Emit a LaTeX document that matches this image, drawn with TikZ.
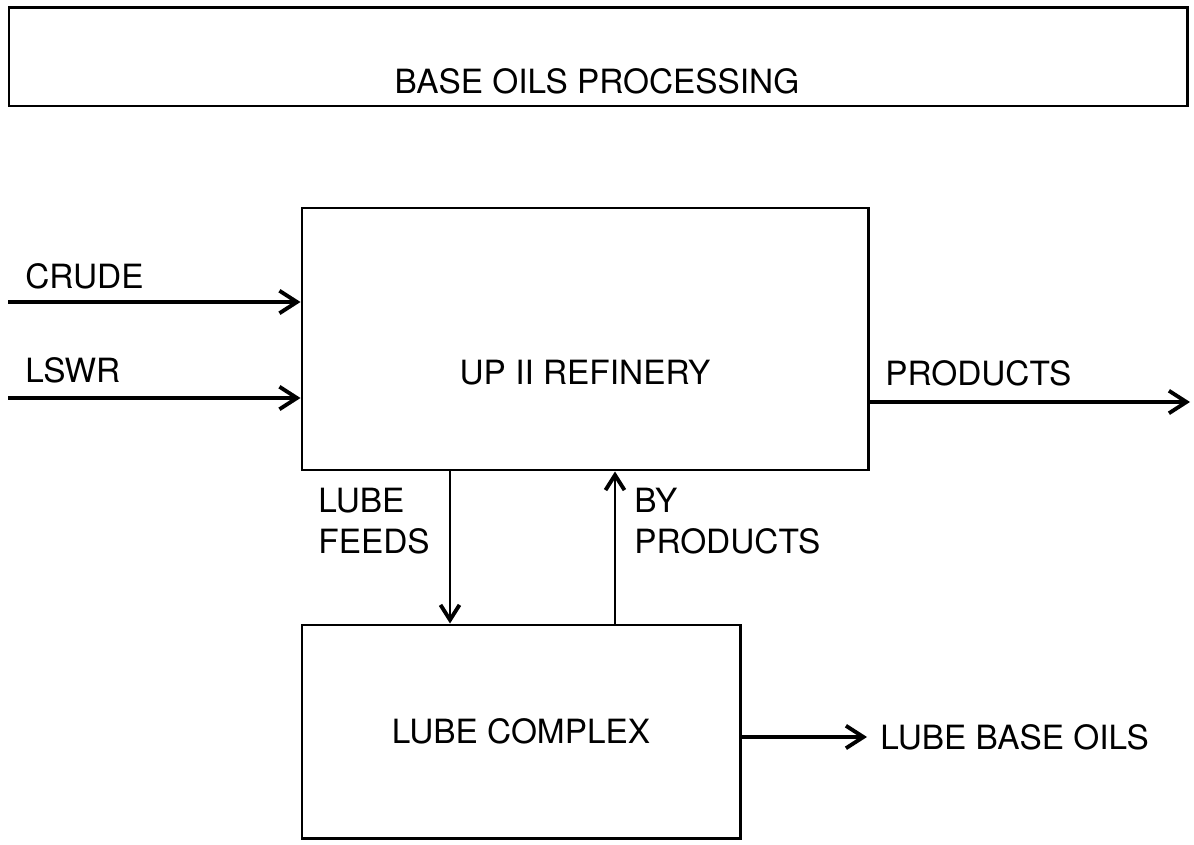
\documentclass[tikz,border=0pt]{standalone}
\usepackage{fontspec}
\setmainfont{TeX Gyre Heros}
\usetikzlibrary{arrows.meta,positioning}

\begin{document}
\begin{tikzpicture}[x=1cm,y=1cm,font=\fontsize{19}{23}\selectfont,
box/.style={draw,line width=1.7pt,inner sep=0pt},
lbl/.style={anchor=west,align=left,inner sep=0pt},
arr/.style={-{Straight Barb[length=3.5mm,width=4.5mm,line width=2.2pt]},line width=2pt},
varr/.style={-{Straight Barb[length=3mm,width=3.8mm,line width=2.2pt]},line width=1.4pt}]

\useasboundingbox (0,0) rectangle (23.88,16.88);
% title
\node[box,minimum width=23.56cm,minimum height=1.96cm] (title) at(11.96,15.74){};
\node (titletxt) at(11.94,15.26){BASE OILS PROCESSING};
% units
\node[box,minimum width=11.32cm,minimum height=5.24cm] (ref) at(11.7,10.1){};
\node (reftxt) at(11.7,9.42){UP II REFINERY};
\node[box,minimum width=8.76cm,minimum height=4.26cm] (lube) at(10.42,2.25){LUBE COMPLEX};
% feeds in
\coordinate (crude) at(.16,10.84);
\coordinate (lswr) at(.16,8.92);
\draw[arr](crude)--(crude-|ref.west);
\draw[arr](lswr)--(lswr-|ref.west);
\node[lbl] (crudetxt) at(.5,11.36){CRUDE};
\node[lbl] (lswrtxt) at(.5,9.48){LSWR};
% products out
\coordinate (prodout) at(23.8,8.84);
\draw[arr](prodout-|ref.east)--(prodout);
\node[lbl] (prodtxt) at(17.7,9.42){PRODUCTS};
% between units
\coordinate (feed) at(9.0,0);
\coordinate (byp) at(12.3,0);
\draw[varr](feed|-ref.south)--(feed|-lube.north);
\draw[varr](byp|-lube.north)--(byp|-ref.south);
\node[lbl] (feedtxt) at(6.36,6.46){LUBE\\FEEDS};
\node[lbl] (byptxt) at(12.68,6.46){BY\\PRODUCTS};
% base oils out
\coordinate (oilout) at(17.34,2.14);
\draw[arr](oilout-|lube.east)--(oilout);
\node[lbl] (oiltxt) at(17.6,2.14){LUBE BASE OILS};
\end{tikzpicture}
\end{document}
